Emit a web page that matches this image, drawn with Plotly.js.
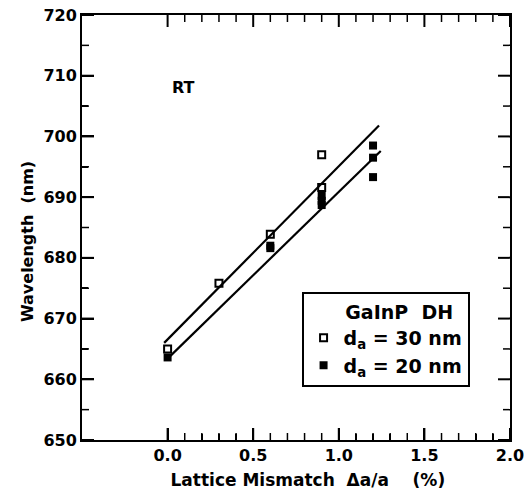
<!DOCTYPE html>
<html><head><meta charset="utf-8">
<script src="https://cdn.plot.ly/plotly-3.0.1.min.js"></script>
<style>html,body{margin:0;padding:0;background:#fff}</style>
</head><body>
<div id="chart" style="width:524px;height:502px"></div>
<script>
// 30 nm active layer (open squares)
const x30 = [0.0, 0.3, 0.6, 0.9, 0.9];
const y30 = [665.0, 675.8, 683.9, 697.0, 691.6];
// 20 nm active layer (filled squares)
const x20 = [0.0, 0.6, 0.6, 0.9, 0.9, 0.9, 1.2, 1.2, 1.2];
const y20 = [663.6, 682.0, 681.6, 690.2, 689.4, 688.7, 698.5, 696.5, 693.3];
// fitted lines
const upperX = [-0.02, 1.235];
const upperY = [666.0, 701.8];
const lowerX = [0.0, 1.245];
const lowerY = [663.4, 697.6];
// ticks
const xTicks = [0.0, 0.5, 1.0, 1.5, 2.0];
const xTickText = ['0.0', '0.5', '1.0', '1.5', '2.0'];
const xMinor = [0.1, 0.2, 0.3, 0.4, 0.6, 0.7, 0.8, 0.9, 1.1, 1.2, 1.3, 1.4, 1.6, 1.7, 1.8, 1.9];
const yTicks = [650, 660, 670, 680, 690, 700, 710, 720];
const yMinor = [655, 665, 675, 685, 695, 705, 715];

const FONT = 'DejaVu Sans, Liberation Sans, sans-serif';
const NB = '\u00a0';
const XR = [-0.5, 2.0], YR = [650, 720];
const PW = 524 - 82 - 14, PH = 502 - 15 - 62;
const pxX = (p) => p * (XR[1] - XR[0]) / PW;
const pxY = (p) => p * (YR[1] - YR[0]) / PH;

// inside tick marks on all four sides, built from the tick arrays
function tickTrace(xv, yv, lenPx, width) {
  const tx = [], ty = [];
  xv.forEach(v => {
    tx.push(v, v, null, v, v, null);
    ty.push(YR[0], YR[0] + pxY(lenPx), null, YR[1], YR[1] - pxY(lenPx), null);
  });
  yv.forEach(v => {
    tx.push(XR[0], XR[0] + pxX(lenPx), null, XR[1], XR[1] - pxX(lenPx), null);
    ty.push(v, v, null, v, v, null);
  });
  return {x: tx, y: ty, mode: 'lines', line: {color: '#000', width: width}, showlegend: false, hoverinfo: 'skip', connectgaps: false};
}

const data = [
  tickTrace(xTicks, yTicks, 12, 2),
  tickTrace(xMinor, yMinor, 7, 1.5),
  {x: upperX, y: upperY, mode: 'lines', line: {color: '#000', width: 2.2}, showlegend: false, hoverinfo: 'skip'},
  {x: lowerX, y: lowerY, mode: 'lines', line: {color: '#000', width: 2.2}, showlegend: false, hoverinfo: 'skip'},
  {x: x30, y: y30, mode: 'markers', name: '<b>d<sub>a</sub> = 30 nm</b>',
   marker: {symbol: 'square-open', size: 7, color: '#000', line: {width: 2, color: '#000'}}},
  {x: x20, y: y20, mode: 'markers', name: '<b>d<sub>a</sub> = 20 nm</b>',
   marker: {symbol: 'square', size: 8, color: '#000'}},
  {x: [null], y: [null], xaxis: 'x2', yaxis: 'y2', mode: 'markers', showlegend: false, hoverinfo: 'skip'}
];

const minorCommon = {
  showgrid: false, zeroline: false, showline: false, ticks: 'inside',
  tickcolor: '#000000', tickwidth: 1.5, ticklen: 6, showticklabels: false, tickmode: 'array'
};
const layout = {
  width: 524, height: 502,
  margin: {l: 82, r: 14, t: 15, b: 62},
  paper_bgcolor: '#fff', plot_bgcolor: '#fff',
  font: {family: FONT, color: '#000'},
  xaxis: {
    range: XR, tickmode: 'array', tickvals: xTicks, ticktext: xTickText, ticks: 'inside',
    ticklen: 12, tickwidth: 2, tickcolor: '#000000',
    showgrid: false, zeroline: false, showline: true, mirror: true, linecolor: '#000', linewidth: 2,
    ticklabeloverflow: 'allow',
    tickfont: {family: FONT, size: 16, color: '#000', weight: 700},
    title: {text: '<b>' + NB.repeat(4) + 'Lattice Mismatch  Δa/a    (%)</b>', font: {family: FONT, size: 17, color: '#000'}, standoff: 10}
  },
  yaxis: {
    range: YR, tickmode: 'array', tickvals: yTicks, ticks: 'inside',
    ticklen: 12, tickwidth: 2, tickcolor: '#000000',
    showgrid: false, zeroline: false, showline: true, mirror: true, linecolor: '#000', linewidth: 2,
    tickfont: {family: FONT, size: 16, color: '#000', weight: 700},
    title: {text: '<b>Wavelength  (nm)' + NB.repeat(5) + '</b>', font: {family: FONT, size: 16, color: '#000'}, standoff: 6}
  },
  xaxis2: Object.assign({}, minorCommon, {range: XR, tickvals: xMinor, overlaying: 'x', anchor: 'y2', side: 'bottom'}),
  yaxis2: Object.assign({}, minorCommon, {range: YR, tickvals: yMinor, overlaying: 'y', anchor: 'x2', side: 'left'}),
  legend: {
    x: 0.513, y: 0.348, xanchor: 'left', yanchor: 'top',
    bordercolor: '#000', borderwidth: 2, bgcolor: '#fff',
    font: {family: FONT, size: 19, color: '#000'},
    title: {text: '<b>' + NB.repeat(6) + 'GaInP  DH</b>', font: {family: FONT, size: 19, color: '#000'}, side: 'top'},
    itemwidth: 30, tracegroupgap: 0
  },
  annotations: [
    {x: 0.09, y: 708, xref: 'x', yref: 'y', text: '<b>RT</b>', showarrow: false,
     font: {family: FONT, size: 16, color: '#000'}}
  ]
};
Plotly.newPlot('chart', data, layout, {displayModeBar: false, staticPlot: true});
</script>
</body></html>
